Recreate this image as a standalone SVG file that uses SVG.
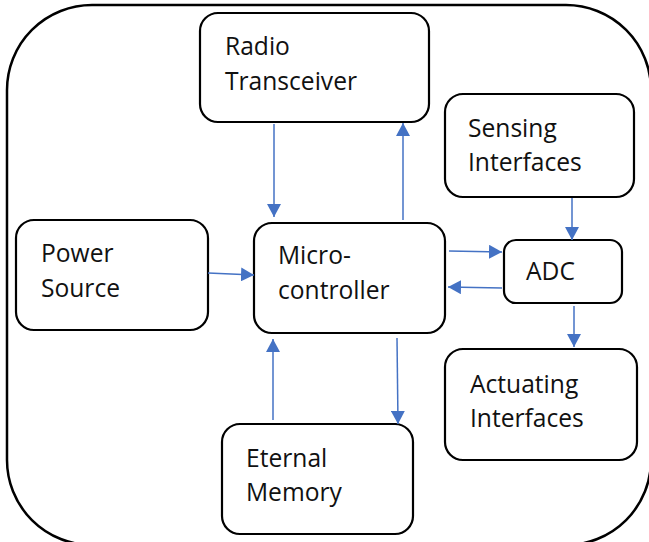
<svg xmlns="http://www.w3.org/2000/svg" width="649" height="542" viewBox="0 0 649 542">
<style>
.box{fill:#fff;stroke:#000;stroke-width:2.2}
.lbl{font-family:"Open Sans","Noto Sans",sans-serif;font-size:24.6px;fill:#111}
.con{stroke:#4472C4;stroke-width:1.5;fill:none;marker-end:url(#ah)}
</style>
<defs>
<marker id="ah" markerUnits="userSpaceOnUse" markerWidth="14" markerHeight="14" viewBox="0 0 14 14" refX="13" refY="7" orient="auto">
<path d="M0,0 L13,7 L0,14 Z" fill="#4472C4"/>
</marker>
</defs>
<rect id="outer" x="7" y="5" width="644" height="540" rx="85" ry="85" fill="none" stroke="#000" stroke-width="2.5"/>
<g id="radio"><rect class="box" x="200" y="13" width="229" height="109" rx="18"/><text class="lbl" x="225" y="55">Radio</text><text class="lbl" x="225" y="90">Transceiver</text></g>
<g id="sensing"><rect class="box" x="445" y="94" width="189" height="103" rx="18"/><text class="lbl" x="468" y="137">Sensing</text><text class="lbl" x="468" y="171">Interfaces</text></g>
<g id="power"><rect class="box" x="16" y="220" width="192" height="110" rx="18"/><text class="lbl" x="41" y="262">Power</text><text class="lbl" x="41" y="297">Source</text></g>
<g id="micro"><rect class="box" x="254" y="223" width="191" height="110" rx="18"/><text class="lbl" x="278" y="264">Micro-</text><text class="lbl" x="278" y="299">controller</text></g>
<g id="adc"><rect class="box" x="504" y="240" width="118" height="63" rx="12"/><text class="lbl" x="526" y="280">ADC</text></g>
<g id="actuating"><rect class="box" x="445" y="349" width="192" height="111" rx="18"/><text class="lbl" x="470" y="393">Actuating</text><text class="lbl" x="470" y="427">Interfaces</text></g>
<g id="memory"><rect class="box" x="222" y="424" width="191" height="110" rx="18"/><text class="lbl" x="246" y="467">Eternal</text><text class="lbl" x="246" y="501">Memory</text></g>
<g id="connectors">
<line class="con" x1="274" y1="124" x2="274" y2="217"/>
<line class="con" x1="403" y1="220" x2="403" y2="123"/>
<line class="con" x1="208" y1="273" x2="254" y2="275"/>
<line class="con" x1="449" y1="251" x2="502" y2="252"/>
<line class="con" x1="502" y1="288" x2="448" y2="287"/>
<line class="con" x1="572" y1="198" x2="572" y2="240"/>
<line class="con" x1="574" y1="306" x2="574" y2="347"/>
<line class="con" x1="273" y1="420" x2="273" y2="339"/>
<line class="con" x1="397" y1="338" x2="398" y2="424"/>
</g>
</svg>
